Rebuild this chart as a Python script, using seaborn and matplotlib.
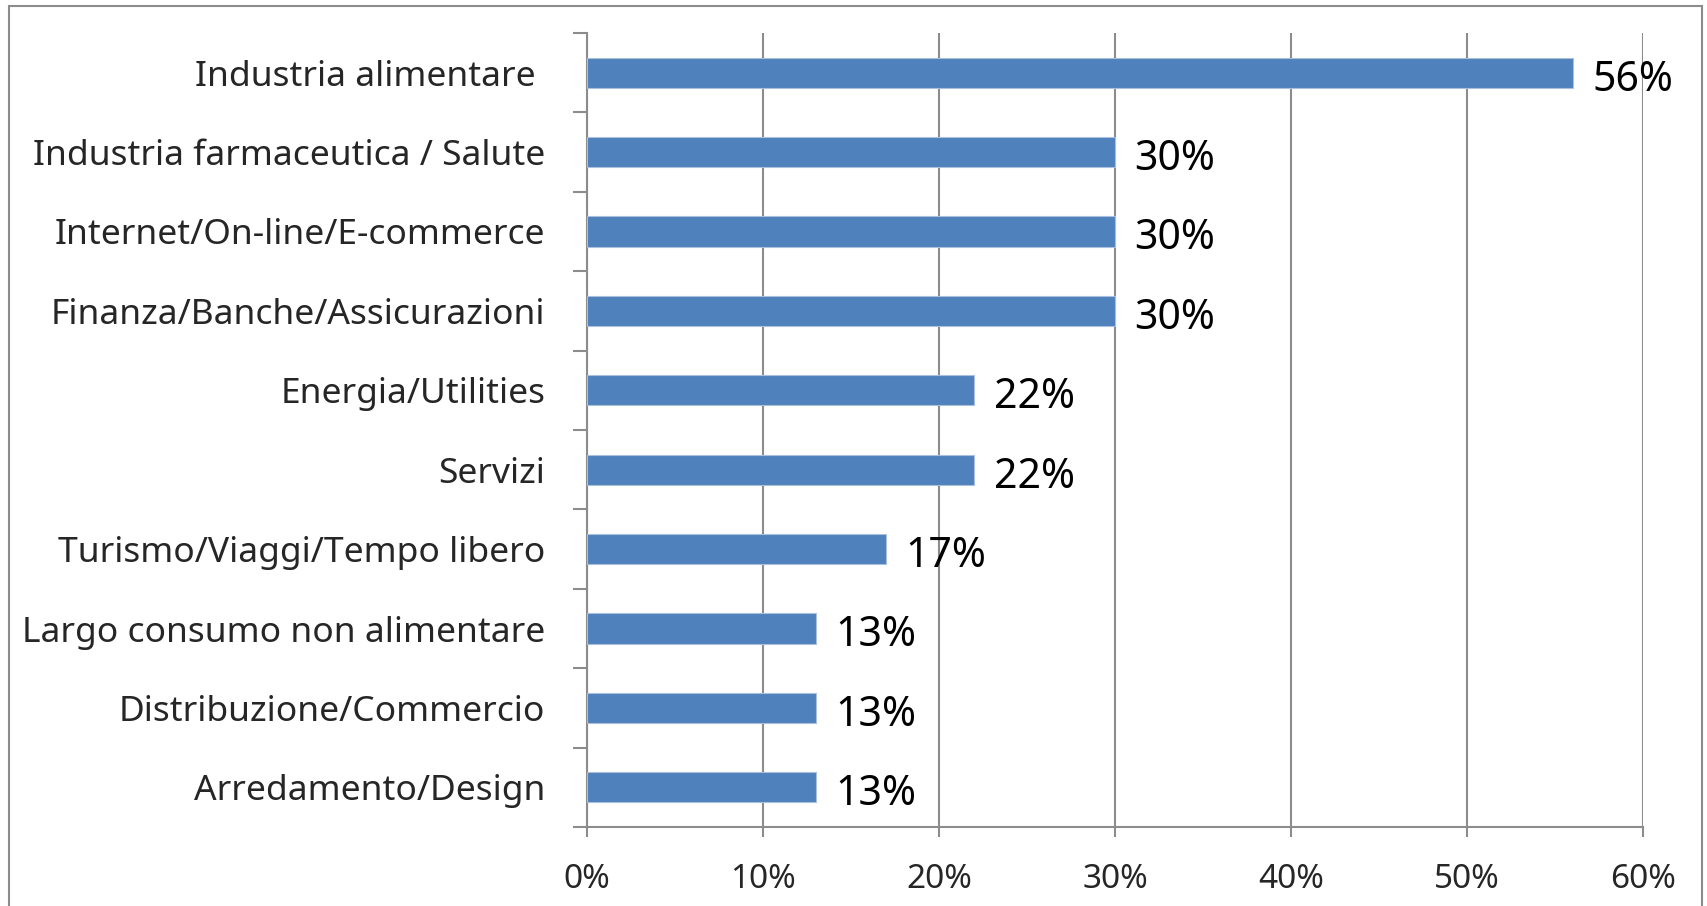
import matplotlib
matplotlib.use("Agg")
import matplotlib.pyplot as plt
import seaborn as sns
import pandas as pd
from matplotlib.patches import Rectangle
from matplotlib.ticker import FixedLocator, FuncFormatter

categories = [
    "Industria alimentare ",
    "Industria farmaceutica / Salute",
    "Internet/On-line/E-commerce",
    "Finanza/Banche/Assicurazioni",
    "Energia/Utilities",
    "Servizi",
    "Turismo/Viaggi/Tempo libero",
    "Largo consumo non alimentare",
    "Distribuzione/Commercio",
    "Arredamento/Design",
]
values = [56, 30, 30, 30, 22, 22, 17, 13, 13, 13]
x_ticks = [0, 10, 20, 30, 40, 50, 60]

df = pd.DataFrame({"settore": categories, "quota": values})

sns.set_theme(style="white")
plt.rcParams["font.family"] = ["Noto Sans", "DejaVu Sans"]

GRAY = "#8c8c8c"
fig = plt.figure(figsize=(17.08, 9.06), dpi=100)
ax = fig.add_axes([587 / 1708, 79 / 906, (1643 - 587) / 1708, (827 - 33) / 906])

sns.barplot(data=df, x="quota", y="settore", orient="h", color="#4F81BD",
            width=0.38, edgecolor="#a9c0de", linewidth=0.8, saturation=1,
            ax=ax, zorder=3)

ax.set_xlim(0, 60)
ax.set_ylim(len(categories) - 0.5, -0.5)
ax.set_xticks(x_ticks)
ax.xaxis.set_major_formatter(FuncFormatter(lambda v, p: f"{v:.0f}%"))
ax.grid(axis="x", color=GRAY, linewidth=1.5, zorder=0)
ax.grid(axis="y", visible=False)
ax.set_axisbelow(True)
ax.set_xlabel("")
ax.set_ylabel("")

for s in ["top", "right"]:
    ax.spines[s].set_visible(False)
for s in ["left", "bottom"]:
    ax.spines[s].set_color(GRAY)
    ax.spines[s].set_linewidth(1.5)

ax.tick_params(axis="x", which="major", length=7, width=1.5, color=GRAY,
               labelsize=24, pad=19, direction="out", bottom=True)
ax.tick_params(axis="y", which="major", length=0, labelsize=25.5, pad=30)
ax.yaxis.set_minor_locator(FixedLocator([i - 0.5 for i in range(len(categories) + 1)]))
ax.tick_params(axis="y", which="minor", length=10, width=1.5, color=GRAY,
               direction="out", left=True)

for c in ax.containers:
    anns = ax.bar_label(c, fmt="{:.0f}%", padding=14, fontsize=29.5, color="black")
    for a in anns:
        a.xyann = (14, -5)

fig.add_artist(Rectangle((9 / 1708, -0.05), (1702 - 9) / 1708, 1.05 - 6 / 906,
                         transform=fig.transFigure, fill=False,
                         edgecolor=GRAY, linewidth=1.5))

fig.savefig("out.png", dpi=100, facecolor="white")
